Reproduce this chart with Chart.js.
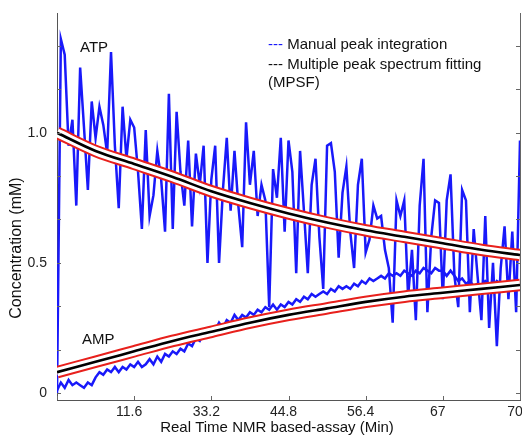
<!DOCTYPE html>
<html>
<head>
<meta charset="utf-8">
<script src="https://cdn.jsdelivr.net/npm/chart.js@4/dist/chart.umd.min.js"></script>
<style>
  html, body { margin: 0; padding: 0; background: #fff; }
  canvas { display: block; }
</style>
</head>
<body>
<canvas id="nmrChart" width="522" height="437"></canvas>
<script>
// manual peak integration (one value per acquisition)
var atpManual = [0, 1.36, 1.30, 0.95, 1.05, 0.72, 1.25, 1.02, 0.78, 1.12,
  0.98, 1.10, 1.03, 0.92, 1.31, 0.95, 0.71, 1.10, 0.90, 1.05,
  1.02, 0.85, 0.63, 1.01, 0.68, 0.76, 0.93, 0.82, 0.62, 1.15,
  0.63, 1.08, 0.85, 0.72, 0.97, 0.64, 0.92, 0.80, 0.95, 0.50,
  0.82, 0.95, 0.50, 0.78, 0.98, 0.70, 0.93, 0.72, 0.56, 1.04,
  0.80, 0.93, 0.68, 0.80, 0.74, 0.33, 0.86, 0.75, 0.98, 0.62,
  0.97, 0.85, 0.46, 0.93, 0.70, 0.46, 0.80, 0.90, 0.60, 0.40,
  0.95, 0.96, 0.85, 0.52, 0.77, 0.87, 0.62, 0.48, 0.80, 0.90,
  0.54, 0.59, 0.72, 0.67, 0.68, 0.55, 0.48, 0.27, 0.74, 0.68,
  0.74, 0.37, 0.55, 0.28, 0.72, 0.90, 0.31, 0.60, 0.74, 0.73,
  0.36, 0.74, 0.84, 0.45, 0.33, 0.78, 0.74, 0.31, 0.63, 0.45,
  0.28, 0.68, 0.25, 0.50, 0.18, 0.48, 0.64, 0.36, 0.62, 0.31, 0.97];

var ampManual = [0.01, 0.04, 0.02, 0.05, 0.03, 0.04, 0.03, 0.02, 0.04, 0.03,
  0.06, 0.08, 0.07, 0.09, 0.08, 0.10, 0.08, 0.10, 0.09, 0.11,
  0.10, 0.12, 0.10, 0.11, 0.13, 0.11, 0.14, 0.12, 0.15, 0.14,
  0.16, 0.15, 0.17, 0.16, 0.19, 0.18, 0.21, 0.20, 0.23, 0.22,
  0.25, 0.24, 0.27, 0.25, 0.28, 0.27, 0.30, 0.28, 0.30, 0.29,
  0.31, 0.30, 0.32, 0.31, 0.33, 0.32, 0.34, 0.32, 0.34, 0.33,
  0.35, 0.34, 0.36, 0.35, 0.37, 0.36, 0.38, 0.37, 0.38, 0.39,
  0.38, 0.40, 0.39, 0.41, 0.40, 0.41, 0.40, 0.42, 0.41, 0.43,
  0.42, 0.44, 0.43, 0.44, 0.45, 0.44, 0.46, 0.45, 0.46, 0.45,
  0.47, 0.46, 0.45, 0.47, 0.46, 0.48, 0.47, 0.46, 0.48, 0.47,
  0.47, 0.45, 0.47, 0.45, 0.43, 0.44, 0.42, 0.43, 0.41, 0.42,
  0.41, 0.43, 0.42, 0.41, 0.43, 0.42, 0.41, 0.43, 0.42, 0.41, 0.42];

// MPSF fits
var fitX = [0, 10, 20, 30, 40, 50, 60, 70, 80, 90, 100, 110, 120];
var atpFit = [1.00, 0.93, 0.88, 0.83, 0.775, 0.73, 0.69, 0.655, 0.625, 0.60, 0.575, 0.55, 0.53];
var ampFit = [0.08, 0.12, 0.16, 0.20, 0.235, 0.27, 0.30, 0.325, 0.35, 0.37, 0.385, 0.40, 0.415];

var xTickVals = [0, 20, 40, 60, 80, 100, 120];
var xTickLabels = ['', '11.6', '33.2', '44.8', '56.4', '67', '70'];
var yTickVals = [0, 0.167, 0.333, 0.5, 0.667, 0.833, 1.0, 1.167, 1.333];
var yTickLabels = ['0', '', '', '0.5', '', '', '1.0', '', ''];

var xTitle = 'Real Time NMR based-assay (Min)';
var yTitle = 'Concentration (mM)';
var legendLines = ['Manual peak integration', 'Multiple peak spectrum fitting', '(MPSF)'];

var BLUE = 'rgb(25,25,250)';
var RED = 'rgb(232,32,28)';
var FONT = '"Liberation Sans", Arial, sans-serif';

function manual(values) {
  return {
    data: values.map(function (v, i) { return { x: i, y: v }; }),
    borderColor: BLUE, borderWidth: 2.5, pointRadius: 0, tension: 0, order: 5
  };
}
function fit(values, color, width, order) {
  return {
    data: fitX.map(function (x, i) { return { x: x, y: values[i] }; }),
    borderColor: color, borderWidth: width, pointRadius: 0,
    cubicInterpolationMode: 'monotone', order: order
  };
}

var decor = {
  id: 'decor',
  afterDraw: function (chart) {
    var ctx = chart.ctx, a = chart.chartArea, x = chart.scales.x, y = chart.scales.y;
    ctx.save();
    ctx.strokeStyle = '#666';
    ctx.lineWidth = 1;
    ctx.beginPath();
    ctx.moveTo(a.right + 0.5, a.top);
    ctx.lineTo(a.right + 0.5, a.bottom);
    y.ticks.forEach(function (t) {
      var py = Math.round(y.getPixelForValue(t.value)) + 0.5;
      ctx.moveTo(a.left, py); ctx.lineTo(a.left + 4, py);
      ctx.moveTo(a.right, py); ctx.lineTo(a.right - 4, py);
    });
    x.ticks.forEach(function (t) {
      var px = Math.round(x.getPixelForValue(t.value)) + 0.5;
      ctx.moveTo(px, a.bottom); ctx.lineTo(px, a.bottom - 4);
    });
    ctx.stroke();

    ctx.fillStyle = '#111';
    ctx.font = '15px ' + FONT;
    ctx.textBaseline = 'middle';
    ctx.textAlign = 'center';
    ctx.fillText(xTitle, 277, 428);
    ctx.save();
    ctx.translate(17, 248);
    ctx.rotate(-Math.PI / 2);
    ctx.font = '16px ' + FONT;
    ctx.fillText(yTitle, 0, 0);
    ctx.restore();

    ctx.textAlign = 'left';
    ctx.fillText('ATP', 80, 48);
    ctx.fillText('AMP', 82, 340);

    ctx.fillStyle = BLUE;
    ctx.fillText('---', 268, 45);
    var dash = ctx.measureText('--- ').width;
    ctx.fillStyle = '#111';
    ctx.fillText(legendLines[0], 268 + dash, 45);
    ctx.fillText('--- ' + legendLines[1], 268, 65);
    ctx.fillText(legendLines[2], 268, 83);
    ctx.restore();
  }
};

new Chart(document.getElementById('nmrChart').getContext('2d'), {
  type: 'line',
  data: {
    datasets: [
      fit(atpFit, '#000', 2.6, 0),
      fit(ampFit, '#000', 2.6, 0),
      fit(atpFit, '#fff', 8.5, 1),
      fit(ampFit, '#fff', 8.5, 1),
      fit(atpFit, RED, 12.5, 2),
      fit(ampFit, RED, 12.5, 2),
      manual(ampManual),
      manual(atpManual)
    ]
  },
  options: {
    responsive: false,
    animation: false,
    events: [],
    devicePixelRatio: 1,
    layout: { padding: { top: 13, right: 2, left: 0, bottom: 0 } },
    plugins: { legend: { display: false }, tooltip: { enabled: false } },
    scales: {
      x: {
        type: 'linear', min: 0, max: 120,
        afterBuildTicks: function (s) { s.ticks = xTickVals.map(function (v) { return { value: v }; }); },
        afterFit: function (s) { s.height = 37; s.paddingLeft = 0; s.paddingRight = 0; },
        ticks: {
          autoSkip: false, maxRotation: 0, padding: 4, labelOffset: -5,
          color: '#222', font: { family: FONT, size: 14 },
          callback: function (v, i) { return xTickLabels[i]; }
        },
        grid: { display: false, drawTicks: false },
        border: { display: true, color: '#555', width: 1 }
      },
      y: {
        type: 'linear', min: -0.027, max: 1.46,
        afterBuildTicks: function (s) { s.ticks = yTickVals.map(function (v) { return { value: v }; }); },
        afterFit: function (s) { s.width = 57; s.paddingTop = 0; s.paddingBottom = 0; },
        ticks: {
          autoSkip: false, padding: 10,
          color: '#222', font: { family: FONT, size: 14 },
          callback: function (v, i) { return yTickLabels[i]; }
        },
        grid: { display: false, drawTicks: false },
        border: { display: true, color: '#555', width: 1 }
      }
    }
  },
  plugins: [decor]
});
</script>
</body>
</html>
